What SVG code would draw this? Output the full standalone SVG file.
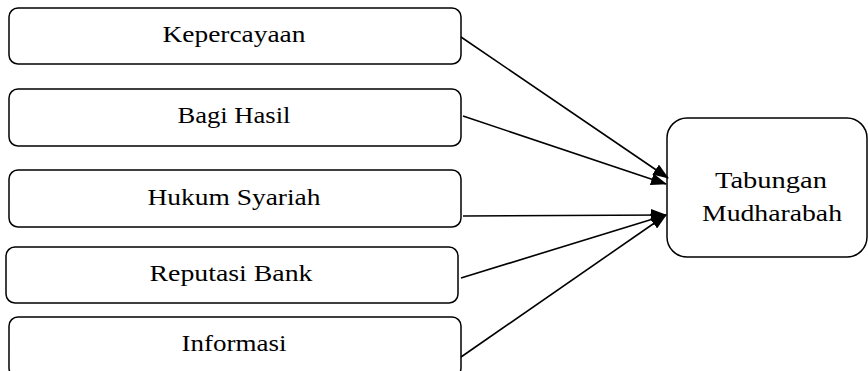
<svg xmlns="http://www.w3.org/2000/svg" width="868" height="371" viewBox="0 0 868 371">
<style>
.box{fill:#fff;stroke:#000;stroke-width:1.5}
.lbl{font-family:"Liberation Serif","Times New Roman",serif;font-size:24px;fill:#000;text-anchor:middle}
.con{stroke:#000;stroke-width:1.6;fill:none;marker-end:url(#ah)}
</style>
<defs>
<marker id="ah" markerUnits="userSpaceOnUse" markerWidth="16" markerHeight="12" refX="15" refY="6" orient="auto" viewBox="0 0 16 12">
<path d="M0,0 L16,6 L0,12 z" fill="#000"/>
</marker>
</defs>
<rect width="868" height="371" fill="#fff"/>
<g id="kepercayaan">
<rect class="box" x="9" y="8" width="452" height="56" rx="9"/>
<text class="lbl" x="234" y="42" textLength="143" lengthAdjust="spacingAndGlyphs">Kepercayaan</text>
</g>
<g id="bagi-hasil">
<rect class="box" x="9" y="89" width="452" height="57" rx="9"/>
<text class="lbl" x="234" y="123" textLength="113" lengthAdjust="spacingAndGlyphs">Bagi Hasil</text>
</g>
<g id="hukum-syariah">
<rect class="box" x="9" y="170" width="452" height="57" rx="9"/>
<text class="lbl" x="234" y="205" textLength="173" lengthAdjust="spacingAndGlyphs">Hukum Syariah</text>
</g>
<g id="reputasi-bank">
<rect class="box" x="6" y="247" width="452" height="56" rx="9"/>
<text class="lbl" x="231" y="281" textLength="163" lengthAdjust="spacingAndGlyphs">Reputasi Bank</text>
</g>
<g id="informasi">
<rect class="box" x="9" y="317" width="452" height="60" rx="9"/>
<text class="lbl" x="234" y="351" textLength="105" lengthAdjust="spacingAndGlyphs">Informasi</text>
</g>
<g id="tabungan-mudharabah">
<rect class="box" x="667" y="118" width="200" height="139" rx="20"/>
<text class="lbl" x="771" y="188" textLength="112" lengthAdjust="spacingAndGlyphs">Tabungan</text>
<text class="lbl" x="772" y="221" textLength="140" lengthAdjust="spacingAndGlyphs">Mudharabah</text>
</g>
<g id="connectors">
<line class="con" x1="461" y1="37" x2="668" y2="178"/>
<line class="con" x1="463" y1="116" x2="666" y2="184"/>
<line class="con" x1="463" y1="216" x2="666" y2="215"/>
<line class="con" x1="461" y1="278" x2="666" y2="215"/>
<line class="con" x1="461" y1="357" x2="666" y2="215"/>
</g>
</svg>
